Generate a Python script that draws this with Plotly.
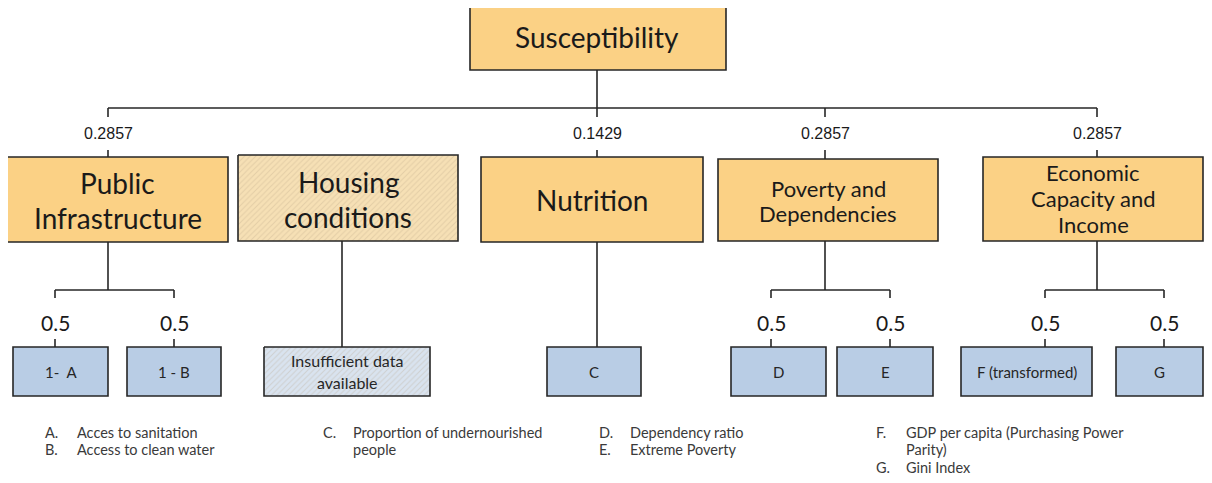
import plotly.graph_objects as go

# ---------------- data ----------------
root_label = "Susceptibility"
group_labels = [["Public", "Infrastructure"], ["Housing", "conditions"], ["Nutrition"],
                ["Poverty and", "Dependencies"], ["Economic", "Capacity and", "Income"]]
group_weights = ["0.2857", None, "0.1429", "0.2857", "0.2857"]
group_hatched = [False, True, False, False, False]
leaf_labels = [[["1-  A"], ["1 - B"]], [["Insufficient data", "available"]], [["C"]],
               [["D"], ["E"]], [["F (transformed)"], ["G"]]]
leaf_weights = [["0.5", "0.5"], [None], [None], ["0.5", "0.5"], ["0.5", "0.5"]]
footnotes = [
    [("A.", "Acces to sanitation"), ("B.", "Access to clean water")],
    [("C.", "Proportion of undernourished"), ("", "people")],
    [("D.", "Dependency ratio"), ("E.", "Extreme Poverty")],
    [("F.", "GDP per capita (Purchasing Power"), ("", "Parity)"), ("G.", "Gini Index")],
]

# ---------------- layout geometry (pixels of the 1212x483 page) ----------------
PAGE_W, PAGE_H, BODY_MARGIN = 1212, 483, 8
root_box = (470, 726, 3, 70)
root_cx = 597
bar_y = 108
group_boxes = [(7, 228, 157, 242), (238, 458, 155, 241), (481, 703, 157, 242),
               (718, 938, 159, 241), (983, 1203, 157, 241)]
group_cx = [108, 342, 597, 825, 1097]
group_font = [28, 28, 28, 22, 22]
group_line_y = [[183, 218], [182, 217], [200], [188, 213], [172, 198, 224]]
leaf_boxes = [[(13, 108, 347, 396), (127, 221, 347, 396)],
              [(264, 430, 347, 396)],
              [(547, 641, 347, 396)],
              [(731, 826, 347, 396), (837, 933, 347, 396)],
              [(961, 1092, 347, 396), (1116, 1203, 347, 396)]]
leaf_cx = [[55, 174], [342], [597], [771, 890], [1045, 1164]]
leaf_font = [15, 16, 15, 15, 15]
leaf_line_dy = 22
sub_bar_y = 290
foot_cols = [(43, 75), (321, 351), (597, 628), (874, 904)]
foot_y0, foot_dy, foot_font = 432, 17.5, 14.5

ORANGE = "#FBD185"
BLUE = "#B9CDE5"
EDGE = "#262626"
LW = 1.6
FONT = "Lato"

fig = go.Figure()
shapes, annotations = [], []


def line(x0, y0, x1, y1):
    shapes.append(dict(type="line", x0=x0, y0=y0, x1=x1, y1=y1,
                       line=dict(color=EDGE, width=LW), layer="below"))


def box(b, fill, hatched=False):
    x0, x1, y0, y1 = b
    if hatched:
        fig.add_trace(go.Scatter(
            x=[x0, x1, x1, x0, x0], y=[y0, y0, y1, y1, y0], mode="lines",
            fill="toself", fillcolor=fill,
            fillpattern=dict(shape="/", fgcolor="rgba(175,155,125,0.55)", bgcolor=fill,
                             size=4, solidity=0.25),
            line=dict(color=EDGE, width=LW), hoverinfo="skip", showlegend=False))
    else:
        shapes.append(dict(type="rect", x0=x0, x1=x1, y0=y0, y1=y1, fillcolor=fill,
                           line=dict(color=EDGE, width=LW), layer="above"))


def text(x, y, s, size, family=FONT, xanchor="center", color="#1a1a1a"):
    annotations.append(dict(x=x, y=y, text=s, showarrow=False, xanchor=xanchor,
                            yanchor="middle", font=dict(family=family, size=size, color=color)))


# root
box(root_box, ORANGE)
text(root_cx, (root_box[2] + root_box[3]) / 2, root_label, 28)
line(root_cx, root_box[3], root_cx, bar_y)
wx = [c for c, w in zip(group_cx, group_weights) if w is not None]
line(min(wx), bar_y, max(wx), bar_y)

for i, lab in enumerate(group_labels):
    cx = group_cx[i]
    b = group_boxes[i]
    if group_weights[i] is not None:
        line(cx, bar_y, cx, bar_y + 9)
        text(cx, bar_y + 25, group_weights[i], 16, family="Liberation Sans")
        line(cx, bar_y + 42, cx, b[2])
    fill = "#F6E0B5" if group_hatched[i] else ORANGE
    box(b, fill, group_hatched[i])
    for s, y in zip(lab, group_line_y[i]):
        text((b[0] + b[1]) / 2, y, s, group_font[i])

    leaves = leaf_labels[i]
    if len(leaves) == 1:
        line(cx, b[3], cx, leaf_boxes[i][0][2])
    else:
        line(cx, b[3], cx, sub_bar_y)
        line(leaf_cx[i][0], sub_bar_y, leaf_cx[i][-1], sub_bar_y)
    for j, ll in enumerate(leaves):
        lb = leaf_boxes[i][j]
        lx = leaf_cx[i][j]
        if leaf_weights[i][j] is not None:
            line(lx, sub_bar_y, lx, sub_bar_y + 8)
            text(lx, sub_bar_y + 32, leaf_weights[i][j], 21)
            line(lx, lb[2] - 8, lx, lb[2])
        hatched = group_hatched[i]
        fill = "#D9E3EF" if hatched else BLUE
        box(lb, fill, hatched)
        ymid = (lb[2] + lb[3]) / 2
        n = len(ll)
        for k, s in enumerate(ll):
            text((lb[0] + lb[1]) / 2, ymid + (k - (n - 1) / 2) * leaf_line_dy, s,
                 leaf_font[i], color="#262626")

# footnotes
for col, rows in zip(foot_cols, footnotes):
    for k, (letter, desc) in enumerate(rows):
        y = foot_y0 + k * foot_dy
        if letter:
            text(col[0], y, letter, foot_font, xanchor="left", color="#3a3a3a")
        text(col[1], y, desc, foot_font, xanchor="left", color="#3a3a3a")

# the page body has an 8px margin: size the figure and ranges so that
# data coordinates equal page pixels
fig.update_layout(
    width=PAGE_W - 2 * BODY_MARGIN, height=PAGE_H - 2 * BODY_MARGIN,
    margin=dict(l=0, r=0, t=0, b=0),
    plot_bgcolor="white", paper_bgcolor="white",
    xaxis=dict(range=[BODY_MARGIN, PAGE_W - BODY_MARGIN], visible=False, fixedrange=True),
    yaxis=dict(range=[PAGE_H - BODY_MARGIN, BODY_MARGIN], visible=False, fixedrange=True),
    shapes=shapes, annotations=annotations, showlegend=False,
)
fig.write_html("out.html")
